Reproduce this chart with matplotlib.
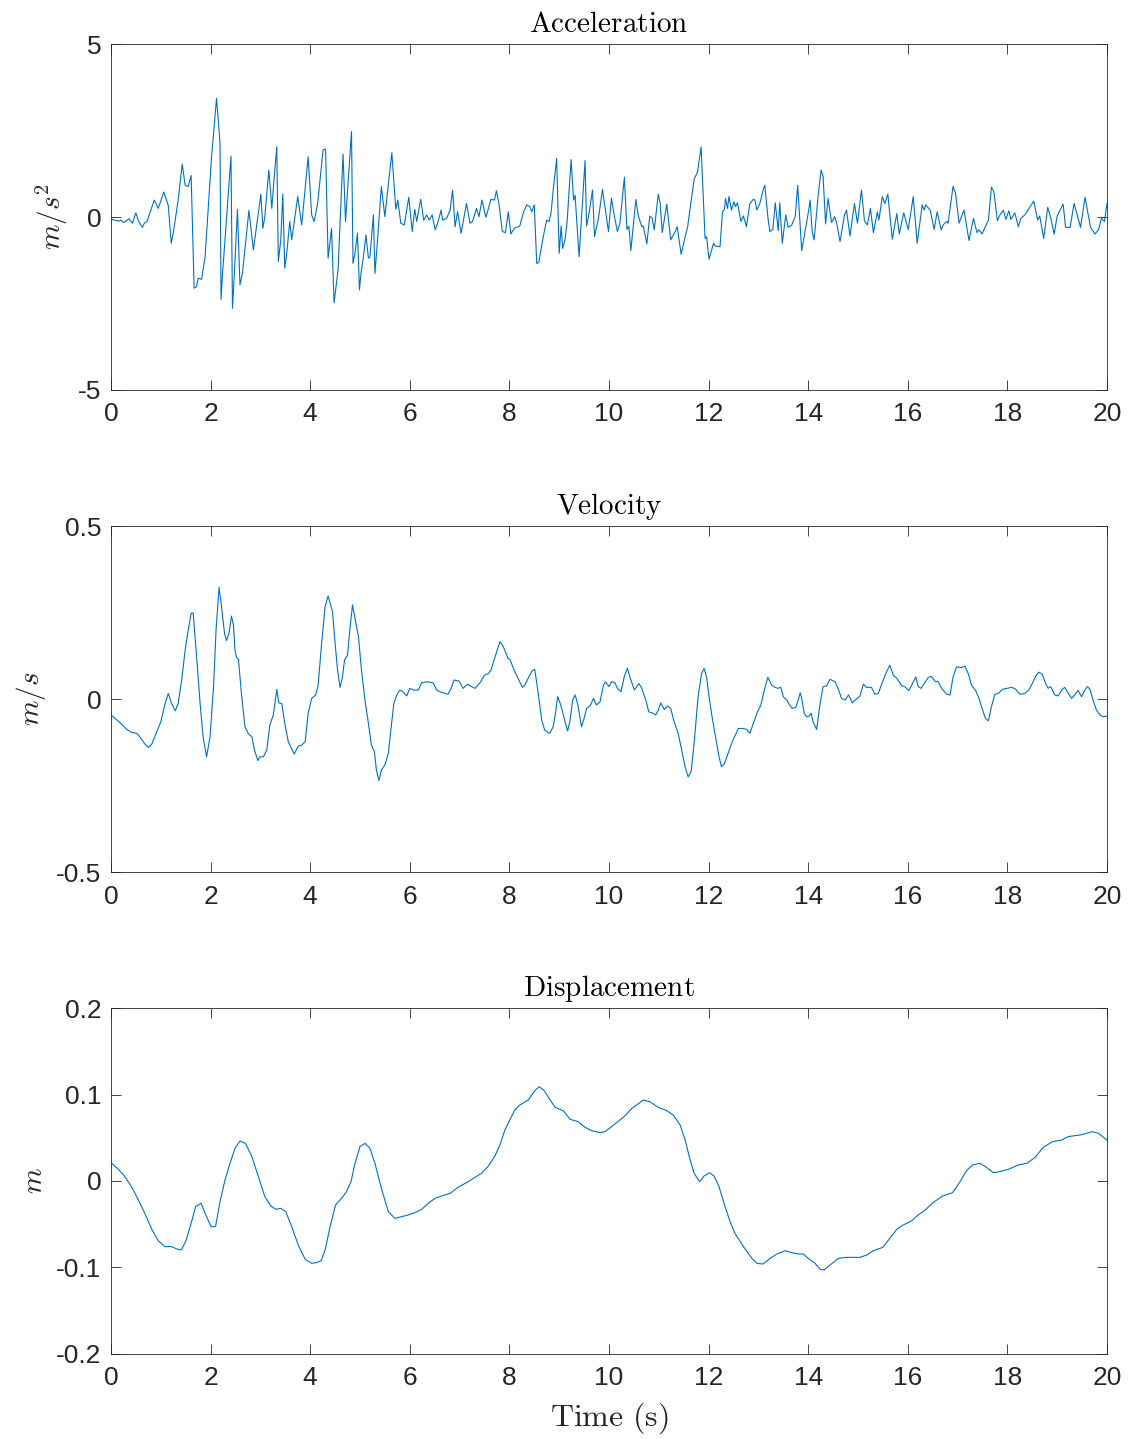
import matplotlib
matplotlib.use('Agg')
import matplotlib.pyplot as plt
from matplotlib.ticker import FuncFormatter

# acceleration record (m/s^2)
acc_t = [0.00, 0.08, 0.15, 0.20, 0.25, 0.30, 0.36, 0.43, 0.50, 0.55, 0.63, 0.67, 0.72, 0.80,
         0.87, 0.95, 1.06, 1.15, 1.21, 1.25, 1.35, 1.43, 1.49, 1.55, 1.61, 1.67, 1.72, 1.75,
         1.82, 1.89, 2.02, 2.12, 2.19, 2.21, 2.24, 2.29, 2.41, 2.44, 2.48, 2.54, 2.59, 2.64,
         2.77, 2.86, 3.01, 3.05, 3.09, 3.17, 3.23, 3.29, 3.33, 3.36, 3.41, 3.45, 3.49, 3.53,
         3.59, 3.63, 3.75, 3.83, 3.96, 4.03, 4.08, 4.15, 4.26, 4.31, 4.36, 4.43, 4.48, 4.56,
         4.66, 4.71, 4.83, 4.86,
         4.90, 4.95, 4.99, 5.02, 5.07, 5.12, 5.17, 5.20, 5.27, 5.30, 5.34, 5.43, 5.50, 5.64,
         5.72, 5.76, 5.82, 5.89, 5.98, 6.05, 6.10, 6.14, 6.22, 6.28, 6.34, 6.39, 6.45, 6.51,
         6.56, 6.63, 6.66, 6.74, 6.81, 6.86, 6.91, 6.96, 7.03, 7.14, 7.21, 7.26, 7.34, 7.39,
         7.45, 7.53, 7.63, 7.70, 7.74, 7.79, 7.86, 7.92, 7.98, 8.03, 8.10, 8.21, 8.28, 8.35,
         8.41, 8.45, 8.50, 8.55, 8.59, 8.68, 8.75, 8.80, 8.84, 8.88, 8.95, 9.00, 9.04, 9.07,
         9.12, 9.16, 9.24, 9.29, 9.32, 9.40, 9.52, 9.55, 9.59, 9.67, 9.71, 9.79, 9.87, 9.99,
         10.05, 10.11,
         10.17, 10.22, 10.31, 10.36, 10.40, 10.44, 10.54, 10.59, 10.66, 10.69, 10.76, 10.82,
         10.87, 10.91, 10.99, 11.03, 11.07, 11.16, 11.24, 11.33, 11.37, 11.45, 11.53, 11.58,
         11.71, 11.78, 11.85, 11.93, 11.96, 12.01, 12.10, 12.13, 12.23, 12.28, 12.32, 12.34,
         12.38, 12.41, 12.46, 12.51, 12.54, 12.58, 12.65, 12.70, 12.76, 12.83, 12.90, 12.93,
         12.97, 13.03, 13.10, 13.13, 13.19, 13.23, 13.29, 13.34, 13.40, 13.43, 13.48, 13.55,
         13.60, 13.67, 13.74, 13.79, 13.87, 14.00, 14.04, 14.08, 14.12, 14.20, 14.26, 14.30,
         14.35, 14.40, 14.47, 14.53, 14.57, 14.64, 14.73, 14.77, 14.84, 14.93, 14.99, 15.07,
         15.13,
         15.19, 15.25, 15.31, 15.39, 15.42, 15.49, 15.54, 15.60, 15.69, 15.78, 15.83, 15.92,
         16.01, 16.11, 16.19, 16.29, 16.33, 16.36, 16.45, 16.53, 16.59, 16.67, 16.71, 16.78,
         16.81, 16.91, 16.96, 17.03, 17.13, 17.23, 17.32, 17.39, 17.43, 17.49, 17.62, 17.68,
         17.73, 17.80, 17.85, 17.92, 17.97, 18.03, 18.07, 18.15, 18.22, 18.27, 18.35, 18.53,
         18.61, 18.65, 18.73, 18.81, 18.88, 18.94, 19.00, 19.12, 19.17, 19.26, 19.34, 19.47,
         19.56, 19.67, 19.76, 19.83, 19.89, 19.95, 20.00]
acc = [-0.07, -0.09, -0.12, -0.09, -0.16, -0.12, -0.05, -0.18, 0.12, -0.11, -0.30, -0.18,
       -0.14, 0.20, 0.49, 0.25, 0.72, 0.34, -0.76, -0.47, 0.49, 1.53, 0.92, 0.88, 1.20, -2.06,
       -2.01, -1.77, -1.80, -1.15, 1.74, 3.43, 2.13, -2.38, -1.63, -0.66, 1.76, -2.64, -1.58,
       0.22, -1.96, -1.63, 0.19, -0.95, 0.66, -0.33, 0.01, 1.36, 0.25, 1.36, 2.03, -1.29,
       -0.66, 0.66, -1.48, -1.05, -0.13, -0.66, 0.59, -0.23, 1.74, 0.06, -0.13, 0.39, 1.94,
       1.96, -1.19, -0.33, -2.48, -1.53, 1.82, -0.13, 2.47, -1.34,
       -1.05, -0.47, -2.11, -1.63, -1.15, -0.52, -1.19, -1.15, 0.06, -1.63, -0.91, 0.88, 0.01,
       1.86, 0.22, 0.49, -0.18, -0.23, 0.57, -0.42, 0.22, -0.13, 0.51, -0.09, 0.06, -0.09,
       0.06, -0.37, -0.18, 0.20, -0.09, -0.04, 0.20, 0.78, -0.28, 0.15, -0.47, 0.39, -0.18,
       -0.13, 0.25, 0.01, 0.49, -0.01, 0.51, 0.49, 0.76, 0.39, -0.42, -0.45, 0.15, -0.49,
       -0.33, -0.26, 0.12, 0.35, 0.30, 0.15, 0.35, -1.34, -1.32, -0.57, -0.09, -0.13, 0.15,
       0.78, 1.69, -1.05, -0.26, -0.91, -0.64, -0.13, 1.66, 0.49, 0.63, -1.15, 1.63, -0.26,
       0.01, 0.78, -0.57, -0.04, 0.80, -0.42, 0.54, 0.01,
       -0.42, -0.18, 1.15, -0.36, -0.26, -0.97, 0.51, 0.03, -0.28, -0.26, -0.78, 0.03, -0.04,
       -0.37, 0.66, 0.39, -0.45, 0.37, -0.66, -0.42, -0.28, -1.08, -0.57, -0.28, 1.09, 1.31,
       2.03, -0.62, -0.57, -1.22, -0.76, -0.84, -0.86, 0.15, 0.22, 0.54, 0.25, 0.59, 0.20,
       0.44, 0.30, 0.41, -0.13, 0.03, -0.28, 0.39, 0.51, 0.49, 0.20, 0.39, 0.80, 0.92, 0.01,
       -0.42, -0.36, 0.41, -0.40, 0.41, -0.76, 0.06, -0.30, -0.23, 0.01, 0.92, -0.97, 0.10,
       0.49, -0.42, -0.66, 0.61, 1.36, 1.17, -0.20, 0.54, -0.16, 0.01, -0.16, -0.71, 0.06,
       0.20, -0.55, 0.39, -0.18, 0.78, -0.11,
       -0.23, 0.25, -0.45, 0.15, -0.09, 0.59, 0.39, 0.66, -0.64, 0.10, -0.49, 0.12, -0.36,
       0.59, -0.76, 0.35, 0.20, 0.35, 0.20, -0.36, 0.15, -0.37, -0.23, -0.13, -0.18, 0.89,
       0.68, -0.18, 0.20, -0.68, -0.04, -0.45, -0.37, -0.49, -0.09, 0.86, 0.73, -0.11, 0.06,
       0.20, -0.07, 0.18, -0.07, 0.12, -0.28, -0.04, 0.06, 0.46, -0.09, 0.03, -0.62, 0.28,
       -0.07, -0.50, 0.03, 0.37, -0.30, -0.30, 0.39, -0.30, 0.57, -0.30, -0.49, -0.37, -0.04,
       -0.13, 0.39]

# velocity (m/s)
vel_t = [0.00, 0.11, 0.21, 0.32, 0.42, 0.52, 0.58, 0.67, 0.75, 0.82, 0.92, 1.00, 1.08, 1.15,
         1.22, 1.29, 1.35, 1.42, 1.49, 1.55, 1.61, 1.65, 1.72, 1.79, 1.85, 1.92, 1.99, 2.06,
         2.11, 2.17, 2.22, 2.28, 2.32, 2.37, 2.42, 2.46, 2.49, 2.52, 2.56, 2.62, 2.69, 2.76,
         2.83, 2.88, 2.95, 2.99, 3.06, 3.13, 3.19, 3.26, 3.33, 3.37, 3.43, 3.49, 3.56, 3.68,
         3.76, 3.83, 3.90, 3.96, 4.03, 4.11, 4.16, 4.23, 4.30, 4.36, 4.45, 4.50, 4.55, 4.60,
         4.65, 4.69, 4.75, 4.80, 4.85, 4.90, 4.97, 5.03, 5.10, 5.17, 5.23, 5.29, 5.33, 5.38,
         5.43, 5.50, 5.57, 5.62, 5.68, 5.74, 5.80, 5.86, 5.94, 6.00, 6.07, 6.17, 6.24, 6.34,
         6.47, 6.54, 6.61, 6.67,
         6.77, 6.83, 6.89, 6.99, 7.07, 7.16, 7.24, 7.31, 7.41, 7.50, 7.58, 7.63, 7.71, 7.81,
         7.88, 7.97, 8.01, 8.11, 8.19, 8.26, 8.31, 8.39, 8.46, 8.51, 8.58, 8.65, 8.71, 8.81,
         8.88, 8.93, 8.97, 9.01, 9.06, 9.12, 9.17, 9.22, 9.27, 9.32, 9.37, 9.45, 9.51, 9.55,
         9.62, 9.69, 9.75, 9.82, 9.89, 9.93, 10.00, 10.05, 10.12, 10.17, 10.24, 10.31, 10.37,
         10.42, 10.51, 10.56, 10.60, 10.66, 10.74, 10.80, 10.87, 10.94, 10.99, 11.04, 11.11,
         11.18, 11.24, 11.31, 11.39, 11.46, 11.53, 11.59, 11.65, 11.71, 11.79, 11.86, 11.91,
         11.96, 12.01, 12.07, 12.14, 12.21, 12.26, 12.32, 12.38, 12.45, 12.52, 12.60, 12.70,
         12.77, 12.83, 12.90, 12.97, 13.05, 13.12, 13.19, 13.27, 13.33,
         13.39, 13.45, 13.50, 13.57, 13.61, 13.68, 13.75, 13.79, 13.84, 13.87, 13.92, 13.97,
         14.02, 14.06, 14.10, 14.17, 14.24, 14.30, 14.37, 14.44, 14.54, 14.60, 14.67, 14.74,
         14.81, 14.89, 14.94, 14.99, 15.04, 15.11, 15.17, 15.27, 15.34, 15.41, 15.48, 15.56,
         15.64, 15.71, 15.78, 15.88, 15.94, 16.02, 16.08, 16.16, 16.21, 16.27, 16.33, 16.41,
         16.47, 16.55, 16.61, 16.68, 16.78, 16.85, 16.91, 16.98, 17.08, 17.15, 17.22, 17.28,
         17.36, 17.43, 17.50, 17.56, 17.62, 17.68, 17.75, 17.82, 17.90, 17.99, 18.09, 18.17,
         18.25, 18.35, 18.43, 18.50, 18.57, 18.63, 18.70, 18.77, 18.82, 18.87, 18.95, 19.02,
         19.09, 19.15, 19.22, 19.29, 19.35, 19.42, 19.49, 19.55, 19.61, 19.66, 19.72, 19.79,
         19.86, 19.92, 20.00]
vel = [-0.046, -0.059, -0.072, -0.088, -0.097, -0.099, -0.109, -0.128, -0.140, -0.130,
       -0.094, -0.066, -0.017, 0.016, -0.013, -0.034, -0.013, 0.055, 0.142, 0.199, 0.248,
       0.249, 0.122, -0.013, -0.109, -0.167, -0.109, 0.036, 0.199, 0.323, 0.267, 0.190,
       0.169, 0.190, 0.240, 0.214, 0.142, 0.120, 0.115, 0.016, -0.080, -0.101, -0.109,
       -0.147, -0.178, -0.167, -0.167, -0.147, -0.075, -0.046, 0.028, -0.011, -0.013,
       -0.070, -0.123, -0.159, -0.136, -0.133, -0.123, -0.041, 0.002, 0.012, 0.040, 0.161,
       0.267, 0.298, 0.252, 0.163, 0.084, 0.034, 0.064, 0.113, 0.127, 0.204, 0.272, 0.233,
       0.180, 0.084, -0.003, -0.070, -0.133, -0.152, -0.205, -0.236, -0.205, -0.191, -0.157,
       -0.090, -0.013, 0.012, 0.026, 0.021, 0.009, 0.031, 0.026, 0.026, 0.047, 0.050, 0.047,
       0.026, 0.021, 0.018,
       0.014, 0.031, 0.055, 0.052, 0.031, 0.043, 0.036, 0.031, 0.047, 0.069, 0.074, 0.084,
       0.120, 0.166, 0.151, 0.118, 0.115, 0.079, 0.055, 0.034, 0.040, 0.064, 0.082, 0.086,
       0.016, -0.061, -0.090, -0.099, -0.080, -0.037, 0.007, -0.008, -0.032, -0.066, -0.092,
       -0.061, -0.003, 0.012, -0.013, -0.080, -0.051, -0.027, -0.020, 0.002, -0.017, -0.008,
       0.040, 0.050, 0.036, 0.050, 0.047, 0.031, 0.021, 0.066, 0.089, 0.064, 0.026, 0.036,
       0.045, 0.031, -0.003, -0.037, -0.040, -0.046, -0.032, -0.011, -0.030, -0.020, -0.027,
       -0.066, -0.099, -0.147, -0.196, -0.225, -0.210, -0.128, 0.007, 0.074, 0.089, 0.064,
       0.007, -0.051, -0.109, -0.167, -0.196, -0.186, -0.162, -0.133, -0.109, -0.085, -0.085,
       -0.088, -0.099, -0.070, -0.041, -0.017, 0.026, 0.063, 0.040, 0.034,
       0.031, 0.034, 0.007, -0.003, -0.013, -0.027, -0.024, -0.008, 0.018, 0.002, -0.041,
       -0.051, -0.049, -0.041, -0.066, -0.088, -0.013, 0.036, 0.038, 0.057, 0.050, 0.031,
       0.002, -0.003, 0.012, -0.011, -0.003, 0.002, 0.009, 0.043, 0.034, 0.034, 0.014, 0.016,
       0.045, 0.074, 0.098, 0.069, 0.060, 0.038, 0.036, 0.025, 0.040, 0.064, 0.036, 0.031,
       0.045, 0.062, 0.066, 0.051, 0.050, 0.031, 0.014, 0.012, 0.064, 0.093, 0.091, 0.095,
       0.072, 0.040, 0.026, 0.002, -0.030, -0.056, -0.063, -0.022, 0.014, 0.016, 0.028,
       0.031, 0.034, 0.028, 0.014, 0.016, 0.026, 0.045, 0.066, 0.078, 0.072, 0.045, 0.031,
       0.036, 0.012, 0.009, 0.026, 0.034, 0.018, 0.002, 0.012, 0.025, 0.007, 0.025, 0.036,
       0.028, -0.003, -0.032, -0.046, -0.051, -0.049]

# displacement (m)
disp_t = [0.00, 0.15, 0.28, 0.42, 0.55, 0.68, 0.82, 0.95, 1.08, 1.22, 1.32, 1.41, 1.50,
          1.61, 1.70, 1.81, 1.89, 2.01, 2.10, 2.19, 2.29, 2.39, 2.49, 2.59, 2.70, 2.83, 2.96,
          3.09, 3.21, 3.31, 3.41, 3.51, 3.63, 3.76, 3.90, 4.03, 4.13, 4.22, 4.30, 4.40, 4.51,
          4.63, 4.73, 4.82, 4.90, 5.00, 5.10, 5.20, 5.30, 5.44, 5.57, 5.70, 5.84, 5.97, 6.10,
          6.24, 6.37, 6.51, 6.64, 6.81, 6.97, 7.14, 7.31, 7.44, 7.58, 7.71, 7.81, 7.91, 8.01,
          8.11, 8.21, 8.38, 8.51, 8.60, 8.70, 8.82, 8.92, 9.08, 9.22, 9.38, 9.52, 9.65, 9.82,
          9.92, 10.09, 10.29, 10.46, 10.69, 10.82, 10.99, 11.16, 11.29, 11.43, 11.53, 11.63,
          11.71, 11.82, 11.91, 12.02, 12.11, 12.21, 12.31, 12.42, 12.53, 12.70, 12.87, 12.97,
          13.09, 13.24, 13.37, 13.54, 13.67, 13.80, 13.90, 14.00, 14.14, 14.24, 14.32, 14.44,
          14.61, 14.77, 15.04, 15.18, 15.31, 15.50, 15.64, 15.78, 15.91, 16.08, 16.21, 16.35,
          16.51, 16.70, 16.90, 17.05, 17.18, 17.30, 17.45, 17.58, 17.72, 17.85, 18.02, 18.22,
          18.39, 18.56, 18.72, 18.91, 19.09, 19.22, 19.46, 19.71, 19.83, 20.00]
disp = [0.0212, 0.0135, 0.0050, -0.0073, -0.0220, -0.0374, -0.0559, -0.0690, -0.0759,
        -0.0759, -0.0786, -0.0798, -0.0701, -0.0489, -0.0297, -0.0258, -0.0374, -0.0528,
        -0.0528, -0.0239, 0.0012, 0.0204, 0.0378, 0.0462, 0.0435, 0.0281, 0.0050, -0.0181,
        -0.0289, -0.0328, -0.0316, -0.0355, -0.0528, -0.0740, -0.0906, -0.0952, -0.0944,
        -0.0921, -0.0798, -0.0528, -0.0277, -0.0200, -0.0123, -0.0008, 0.0204, 0.0397,
        0.0435, 0.0378, 0.0204, -0.0104, -0.0355, -0.0432, -0.0412, -0.0393, -0.0366,
        -0.0328, -0.0258, -0.0200, -0.0173, -0.0143, -0.0073, -0.0019, 0.0042, 0.0089,
        0.0173, 0.0289, 0.0416, 0.0590, 0.0705, 0.0821, 0.0879, 0.0936, 0.1044, 0.1090,
        0.1044, 0.0936, 0.0852, 0.0813, 0.0713, 0.0686, 0.0621, 0.0582, 0.0559, 0.0570,
        0.0647, 0.0736, 0.0840, 0.0936, 0.0917, 0.0852, 0.0813, 0.0763, 0.0647, 0.0474,
        0.0243, 0.0089, -0.0008, 0.0058, 0.0096, 0.0058, -0.0066, -0.0258, -0.0451, -0.0605,
        -0.0759, -0.0894, -0.0952, -0.0960, -0.0894, -0.0844, -0.0806, -0.0829, -0.0844,
        -0.0844, -0.0894, -0.0952, -0.1021, -0.1029, -0.0971, -0.0894, -0.0883, -0.0883,
        -0.0855, -0.0806, -0.0767, -0.0663, -0.0559, -0.0509, -0.0459, -0.0393, -0.0335,
        -0.0250, -0.0173, -0.0135, -0.0008, 0.0119, 0.0185, 0.0204, 0.0158, 0.0096, 0.0108,
        0.0135, 0.0185, 0.0204, 0.0274, 0.0389, 0.0455, 0.0474, 0.0513, 0.0532, 0.0570,
        0.0551, 0.0474]

x_ticks = [0, 2, 4, 6, 8, 10, 12, 14, 16, 18, 20]

plt.rcParams['mathtext.fontset'] = 'cm'
plt.rcParams['font.family'] = ['Liberation Sans', 'DejaVu Sans']
plt.rcParams['axes.unicode_minus'] = False

line_color = '#0072BD'
axis_color = '#262626'

fig = plt.figure(figsize=(11.30, 14.39), dpi=100)

panels = [
    (0.7290, acc_t, acc, r'$\mathrm{Acceleration}$', r'$m/s^2$', (-5, 5), [-5, 0, 5]),
    (0.3940, vel_t, vel, r'$\mathrm{Velocity}$', r'$m/s$', (-0.5, 0.5), [-0.5, 0, 0.5]),
    (0.0591, disp_t, disp, r'$\mathrm{Displacement}$', r'$m$', (-0.2, 0.2),
     [-0.2, -0.1, 0, 0.1, 0.2]),
]

for bottom, t, y, title, ylabel, ylim, yticks in panels:
    ax = fig.add_axes([0.0982, bottom, 0.8814, 0.2404])
    ax.plot(t, y, color=line_color, linewidth=0.8)
    ax.set_xlim(0, 20)
    ax.set_ylim(*ylim)
    ax.set_xticks(x_ticks)
    ax.set_yticks(yticks)
    ax.yaxis.set_major_formatter(FuncFormatter(lambda v, pos: '%g' % v))
    ax.tick_params(direction='in', length=7.5, width=0.6, color=axis_color,
                   labelcolor=axis_color, labelsize=19, top=True, right=True)
    ax.tick_params(axis='x', pad=9)
    ax.tick_params(axis='y', pad=7)
    for side in ax.spines.values():
        side.set_color(axis_color)
        side.set_linewidth(0.6)
    ax.set_title(title, fontsize=21, pad=9, color='black')
    ax.set_ylabel(ylabel, fontsize=21, color=axis_color, labelpad=6)

ax.set_xlabel(r'$\mathrm{Time\ (s)}$', fontsize=23, color=axis_color, labelpad=7)

fig.savefig('out.png', dpi=100)
